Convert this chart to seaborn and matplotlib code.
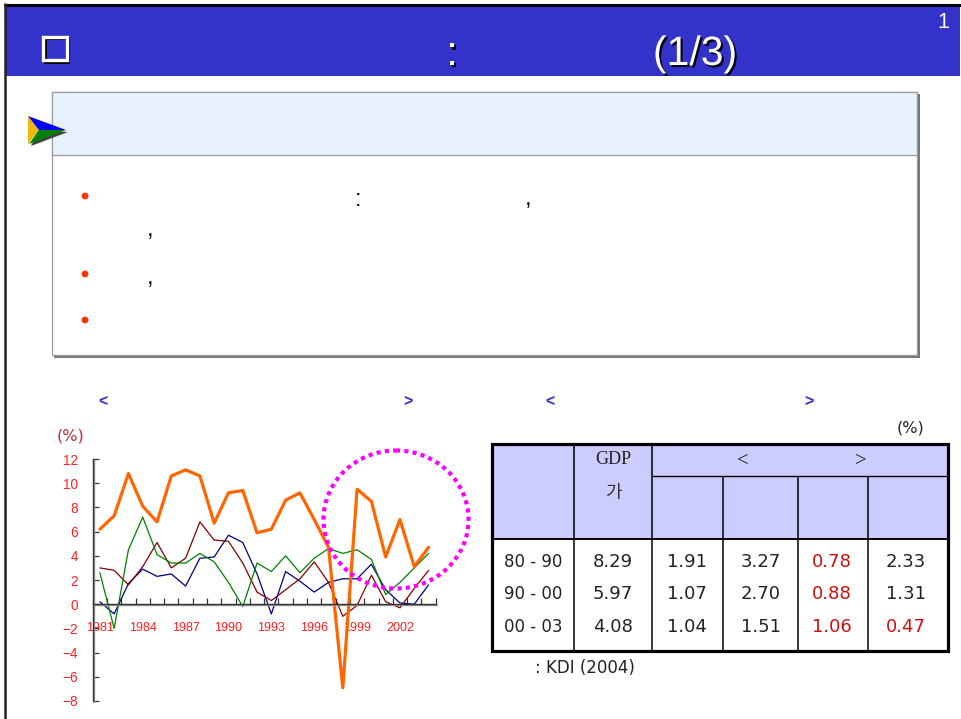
import matplotlib
matplotlib.use('Agg')
import matplotlib.pyplot as plt
import matplotlib.patheffects as pe
from matplotlib.patches import Rectangle, Ellipse, Polygon, Circle
import numpy as np
import pandas as pd
import seaborn as sns

years = list(range(1981, 2005))
orange_vals = [6.2, 7.3, 10.8, 8.1, 6.8, 10.6, 11.1, 10.6, 6.7, 9.2, 9.4, 5.9,
               6.2, 8.6, 9.2, 7.0, 4.7, -6.9, 9.5, 8.5, 3.9, 7.0, 3.1, 4.7]
green_vals = [2.6, -2.0, 4.5, 7.2, 4.1, 3.4, 3.4, 4.2, 3.5, 1.8, -0.2, 3.4,
              2.7, 4.0, 2.6, 3.8, 4.6, 4.2, 4.5, 3.7, 0.8, 1.8, 3.0, 4.2]
maroon_vals = [3.0, 2.8, 1.6, 3.1, 5.1, 3.0, 3.8, 6.8, 5.3, 5.2, 3.4, 1.0,
               0.3, 1.2, 2.1, 3.5, 1.8, -1.0, -0.1, 2.4, 0.2, -0.3, 1.3, 2.8]
blue_vals = [0.2, -0.8, 1.7, 2.9, 2.3, 2.5, 1.5, 3.8, 3.9, 5.7, 5.1, 2.5,
             -0.8, 2.7, 1.9, 1.0, 1.8, 2.1, 2.1, 3.3, 1.2, 0.1, 0.0, 1.6]
y_ticks = [12, 10, 8, 6, 4, 2, 0, -2, -4, -6, -8]
x_labels = [1981, 1984, 1987, 1990, 1993, 1996, 1999, 2002]

row_labels = ['80 - 90', '90 - 00', '00 - 03']
gdp_vals = ['8.29', '5.97', '4.08']
col1_vals = ['1.91', '1.07', '1.04']
col2_vals = ['3.27', '2.70', '1.51']
col3_vals = ['0.78', '0.88', '1.06']
col4_vals = ['2.33', '1.31', '0.47']

W, H = 961, 719
RED = '#FF2020'
TABLE_RED = '#CC1111'
NAVY = '#3333CC'
FONT = 'Liberation Sans'
WIDE = 'DejaVu Sans'

sns.set_style('white')
plt.rcParams['font.family'] = [FONT, 'Noto Sans CJK KR', 'DejaVu Sans']

fig = plt.figure(figsize=(W / 100, H / 100), dpi=100, facecolor='white')


def px_axes(left, top, right, bottom):
    return fig.add_axes([left / W, 1 - bottom / H, (right - left) / W, (bottom - top) / H])


# line chart
ax = px_axes(92.7, 459, 435.7, 701)
df = pd.DataFrame({'year': years, 'blue': blue_vals, 'maroon': maroon_vals,
                   'green': green_vals, 'orange': orange_vals})
long_df = df.melt(id_vars='year', var_name='series', value_name='value')
sns.lineplot(data=long_df, x='year', y='value', hue='series', size='series', ax=ax,
             hue_order=['blue', 'maroon', 'green', 'orange'],
             palette={'blue': '#000080', 'maroon': '#800000', 'green': '#008000', 'orange': '#FF6600'},
             sizes={'blue': 0.9, 'maroon': 0.9, 'green': 0.9, 'orange': 2.3},
             errorbar=None, legend=False)
ax.set(xlabel='', ylabel='', xlim=(1980.5, 2004.5), ylim=(-8, 12))
ax.patch.set_alpha(0)
ax.spines['top'].set_visible(False)
ax.spines['right'].set_visible(False)
axis_shadow = [pe.SimpleLineShadow(offset=(0.8, -0.8), shadow_color='#999999', alpha=1), pe.Normal()]
ax.spines['left'].set_color('#333333')
ax.spines['left'].set_linewidth(1.0)
ax.spines['left'].set_path_effects(axis_shadow)
ax.spines['bottom'].set_position(('data', 0))
ax.spines['bottom'].set_color('#333333')
ax.spines['bottom'].set_linewidth(1.0)
ax.spines['bottom'].set_path_effects(axis_shadow)
ax.set_yticks(y_ticks)
ax.tick_params(axis='y', direction='in', length=4, width=0.9, color='#333333',
               labelcolor=RED, labelsize=9.8, pad=10.5, left=True)
ax.set_xticks(x_labels)
ax.set_xticks(np.arange(1980.5, 2005), minor=True)
ax.tick_params(axis='x', which='major', length=0, labelcolor=RED, labelsize=9.0, pad=13, bottom=True)
ax.tick_params(axis='x', which='minor', direction='in', length=4, width=0.9, color='#333333', bottom=True)

# slide furniture on a pixel overlay
ov = fig.add_axes([0, 0, 1, 1], zorder=5)
ov.set_xlim(0, W)
ov.set_ylim(H, 0)
ov.axis('off')


def rect(x0, y0, x1, y1, **kw):
    ov.add_patch(Rectangle((x0, y0), x1 - x0, y1 - y0, **kw))


def hline(y, x0, x1, c='black', lw=1.0):
    ov.plot([x0, x1], [y, y], color=c, lw=lw, solid_capstyle='butt')


def vline(x, y0, y1, c='black', lw=1.0):
    ov.plot([x, x], [y0, y1], color=c, lw=lw, solid_capstyle='butt')


def label(x, y, s, **kw):
    kw.setdefault('ha', 'center')
    kw.setdefault('va', 'center')
    return ov.text(x, y, s, **kw)


# title bar and page frame
rect(5, 4, 960, 76, fc=NAVY, ec='none')
hline(4.5, 4, W, lw=2.2)
vline(5, 3, H, c='#222222', lw=1.8)
vline(960.5, 6, H, c='#CCCCCC', lw=0.8)
shadow = [pe.withSimplePatchShadow(offset=(1.5, -1.5), shadow_rgbFace='black', alpha=0.9)]
rect(44.5, 38, 68, 61.5, fc='none', ec='black', lw=2.2)
rect(43, 36.5, 66.5, 60, fc='none', ec='white', lw=2.4)
for x, s in [(452, ':'), (695, '(1/3)')]:
    t = label(x, 54, s, color='white', fontsize=29.5)
    t.set_path_effects(shadow)
label(943, 22, '1', color='white', fontsize=15.5)

# text panel
rect(54, 94, 920, 358, fc='#777777', ec='none')
rect(51.5, 91.5, 916.5, 354.5, fc='white', ec='#999999', lw=0.9)
rect(51.5, 91.5, 916.5, 155, fc='#E8F2FE', ec='#999999', lw=0.9)

# arrow bullet
ov.add_patch(Polygon([[31, 146], [68, 132], [39, 130]], fc='#444444', ec='none'))
ov.add_patch(Polygon([[28, 116], [39, 130], [28, 144]], fc='#EDB90F', ec='none'))
ov.add_patch(Polygon([[28, 116], [66, 130], [39, 130]], fc='#0000FF', ec='none'))
ov.add_patch(Polygon([[29, 144], [39, 130], [66, 130]], fc='#008000', ec='none'))

for y in [196, 274, 320]:
    ov.add_patch(Circle((85, y), 3.4, fc='#FF3300', ec='none'))
label(358, 206, ':', va='baseline', fontsize=17, color='#111111')
label(528, 205, ',', va='baseline', fontsize=17, color='#111111')
label(150, 236, ',', va='baseline', fontsize=17, color='#111111')
label(150, 284, ',', va='baseline', fontsize=17, color='#111111')

# captions
for x, s in [(103, '<'), (408, '>'), (550, '<'), (809, '>')]:
    label(x, 402, s, color=NAVY, fontsize=11.5, fontweight='bold')
label(71, 436, '(%)', family=[WIDE], color='#B03030', fontsize=11.5)
label(911, 428, '(%)', family=[WIDE], color='#222222', fontsize=11.5)

# highlight circle
ov.add_patch(Ellipse((396, 519.5), 145, 138, fc='none', ec='#FF00FF', lw=3.0,
                     linestyle=(0, (1, 1))))

# table
col_x = [491, 574, 652, 723, 798, 868, 948]
rect(491, 443, 948, 539, fc='#CCCCFF', ec='none')
hline(476, 652, 948, lw=1.0)
hline(539, 491, 948, lw=1.4)
for x in col_x[1:3]:
    vline(x, 443, 651, lw=1.1)
for x in col_x[3:6]:
    vline(x, 476, 651, lw=1.1)
rect(491.5, 443.5, 947.5, 651, fc='none', ec='black', lw=2.3)
label(613, 460, 'GDP', family=['Liberation Serif'], fontsize=13, color='#222222')
label(613, 493, '가', family=['Noto Sans CJK KR'], fontsize=13, color='#333333')
label(742.5, 461, '<', family=['Liberation Serif'], fontsize=15, color='#222222')
label(860.5, 461, '>', family=['Liberation Serif'], fontsize=15, color='#222222')

row_y = [562, 594, 627]
col_centers = [533, 613, 687, 761, 832, 906]
columns = [row_labels, gdp_vals, col1_vals, col2_vals, col3_vals, col4_vals]
red_cells = {(4, 0), (4, 1), (4, 2), (5, 2)}
for c, (cx, vals) in enumerate(zip(col_centers, columns)):
    for r, (y, v) in enumerate(zip(row_y, vals)):
        label(cx, y, v, family=[WIDE], fontsize=12 if c == 0 else 13,
              color=TABLE_RED if (c, r) in red_cells else '#222222')
label(585, 668, ': KDI (2004)', family=[WIDE], fontsize=12, color='#222222')

fig.savefig('out.png', dpi=100)
